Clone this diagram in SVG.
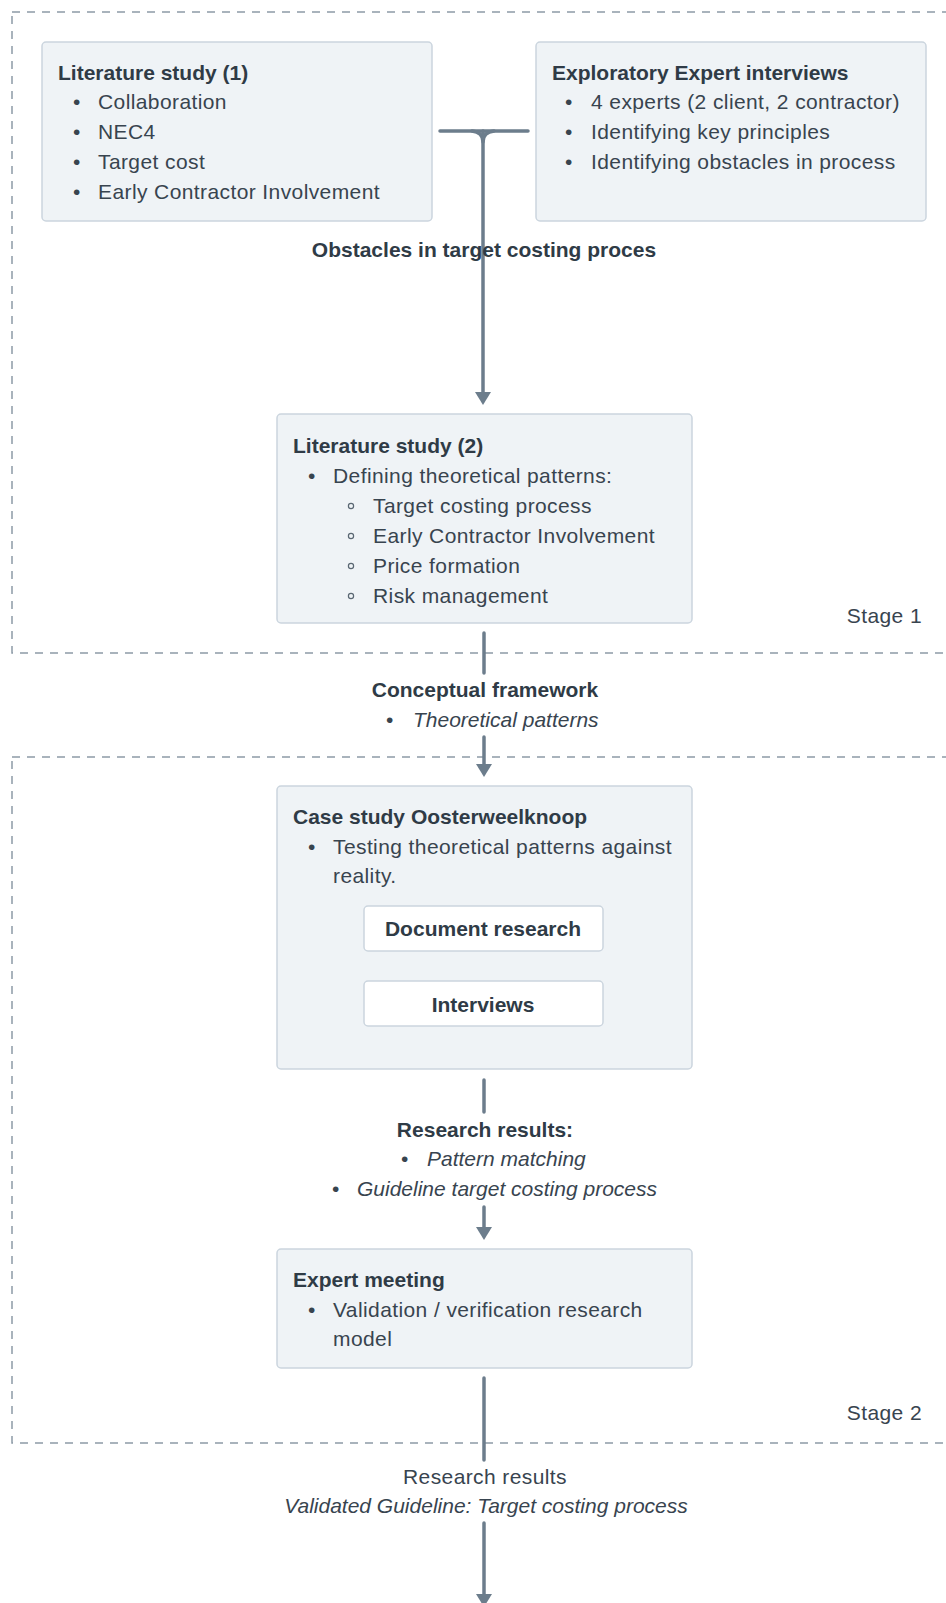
<svg xmlns="http://www.w3.org/2000/svg" width="946" height="1603" viewBox="0 0 946 1603">
  <style>
    text { font-family: "Liberation Sans", Arial, sans-serif; font-size: 21px; fill: #38444f; letter-spacing: 0.4px; }
    .b { font-weight: bold; fill: #2f3b46; letter-spacing: 0; }
    .i { font-style: italic; letter-spacing: 0; }
    .m { text-anchor: middle; }
    .e { text-anchor: end; }
    .box { fill: #eff3f6; stroke: #cbd5de; stroke-width: 1.5; }
    .inner { fill: #ffffff; stroke: #cbd5de; stroke-width: 1.5; }
    .stage { fill: none; stroke: #8d9ba7; stroke-width: 1.5; stroke-dasharray: 8 7; }
    .conn { fill: none; stroke: #6c7d8c; stroke-width: 3.5; stroke-linecap: round; }
    .hollow { fill: none; stroke: #5a6772; stroke-width: 1.2; }
  </style>
  <defs>
    <marker id="arrow" markerUnits="userSpaceOnUse" viewBox="0 0 13 16" markerWidth="13" markerHeight="16" refX="2" refY="8" orient="auto">
      <path d="M0,0 L13,8 L0,16 z" fill="#6c7d8c"/>
    </marker>
  </defs>

  <!-- stage frames -->
  <g id="stage1">
    <rect class="stage" x="12" y="12" width="1000" height="641"/>
    <text class="e" x="922" y="623">Stage 1</text>
  </g>
  <g id="stage2">
    <rect class="stage" x="12" y="757" width="1000" height="686"/>
    <text class="e" x="922" y="1420">Stage 2</text>
  </g>

  <!-- connectors -->
  <g id="connectors">
    <line class="conn" x1="440" y1="131" x2="528" y2="131"/>
    <path class="conn" d="M472,131 Q483,132 483,142 M494,131 Q483,132 483,142" stroke-width="3"/>
    <line class="conn" x1="483" y1="131" x2="483" y2="394" marker-end="url(#arrow)"/>
    <line class="conn" x1="484" y1="633" x2="484" y2="673"/>
    <line class="conn" x1="484" y1="737" x2="484" y2="766" marker-end="url(#arrow)"/>
    <line class="conn" x1="484" y1="1080" x2="484" y2="1112"/>
    <line class="conn" x1="484" y1="1207" x2="484" y2="1229" marker-end="url(#arrow)"/>
    <line class="conn" x1="484" y1="1378" x2="484" y2="1460"/>
    <line class="conn" x1="484" y1="1523" x2="484" y2="1596" marker-end="url(#arrow)"/>
  </g>

  <!-- connector labels -->
  <g id="label-obstacles">
    <text class="b m" x="484" y="257">Obstacles in target costing proces</text>
  </g>
  <g id="label-framework">
    <text class="b m" x="485" y="697">Conceptual framework</text>
    <text x="386" y="727">•</text>
    <text class="i" x="413" y="727">Theoretical patterns</text>
  </g>
  <g id="label-results">
    <text class="b m" x="485" y="1137">Research results:</text>
    <text x="401" y="1166">•</text>
    <text class="i" x="427" y="1166">Pattern matching</text>
    <text x="332" y="1196">•</text>
    <text class="i" x="357" y="1196">Guideline target costing process</text>
  </g>
  <g id="label-final">
    <text class="m" x="485" y="1484">Research results</text>
    <text class="i m" x="486" y="1513">Validated Guideline: Target costing process</text>
  </g>

  <!-- nodes -->
  <g id="lit-study-1">
    <rect class="box" x="42" y="42" width="390" height="179" rx="4"/>
    <text class="b" x="58" y="80">Literature study (1)</text>
    <text x="73" y="109">•</text><text x="98" y="109">Collaboration</text>
    <text x="73" y="139">•</text><text x="98" y="139">NEC4</text>
    <text x="73" y="169">•</text><text x="98" y="169">Target cost</text>
    <text x="73" y="199">•</text><text x="98" y="199">Early Contractor Involvement</text>
  </g>

  <g id="expert-interviews">
    <rect class="box" x="536" y="42" width="390" height="179" rx="4"/>
    <text class="b" x="552" y="80">Exploratory Expert interviews</text>
    <text x="565" y="109">•</text><text x="591" y="109">4 experts (2 client, 2 contractor)</text>
    <text x="565" y="139">•</text><text x="591" y="139">Identifying key principles</text>
    <text x="565" y="169">•</text><text x="591" y="169">Identifying obstacles in process</text>
  </g>

  <g id="lit-study-2">
    <rect class="box" x="277" y="414" width="415" height="209" rx="4"/>
    <text class="b" x="293" y="453">Literature study (2)</text>
    <text x="308" y="483">•</text><text x="333" y="483">Defining theoretical patterns:</text>
    <circle class="hollow" cx="351" cy="506" r="2.6"/><text x="373" y="513">Target costing process</text>
    <circle class="hollow" cx="351" cy="536" r="2.6"/><text x="373" y="543">Early Contractor Involvement</text>
    <circle class="hollow" cx="351" cy="566" r="2.6"/><text x="373" y="573">Price formation</text>
    <circle class="hollow" cx="351" cy="596" r="2.6"/><text x="373" y="603">Risk management</text>
  </g>

  <g id="case-study">
    <rect class="box" x="277" y="786" width="415" height="283" rx="4"/>
    <text class="b" x="293" y="824">Case study Oosterweelknoop</text>
    <text x="308" y="854">•</text><text x="333" y="854">Testing theoretical patterns against</text>
    <text x="333" y="883">reality.</text>
  </g>
  <g id="document-research">
    <rect class="inner" x="364" y="906" width="239" height="45" rx="4"/>
    <text class="b m" x="483" y="936">Document research</text>
  </g>
  <g id="interviews">
    <rect class="inner" x="364" y="981" width="239" height="45" rx="4"/>
    <text class="b m" x="483" y="1012">Interviews</text>
  </g>

  <g id="expert-meeting">
    <rect class="box" x="277" y="1249" width="415" height="119" rx="4"/>
    <text class="b" x="293" y="1287">Expert meeting</text>
    <text x="308" y="1317">•</text><text x="333" y="1317">Validation / verification research</text>
    <text x="333" y="1346">model</text>
  </g>
</svg>
